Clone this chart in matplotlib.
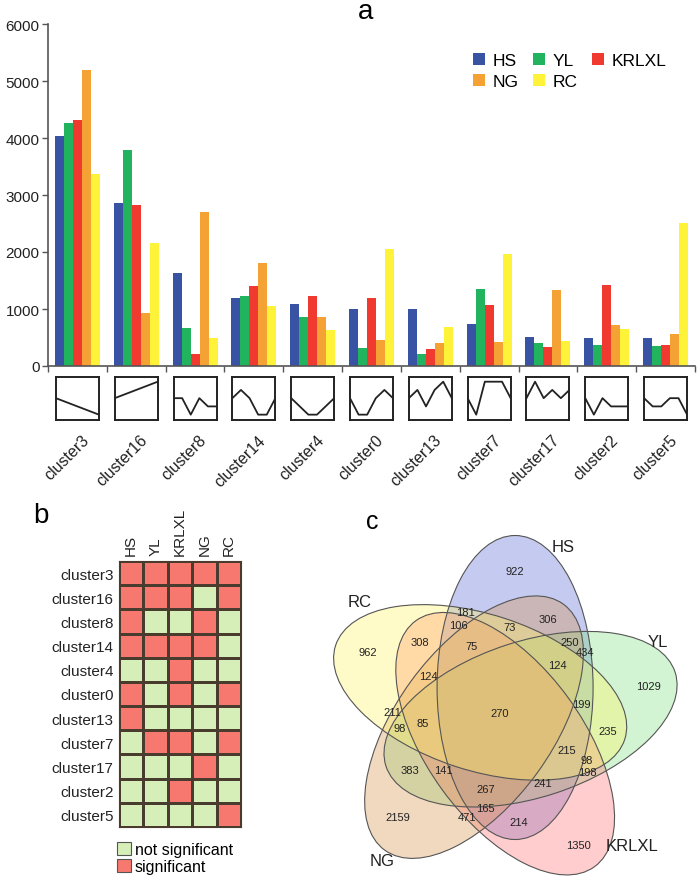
import numpy as np
import matplotlib
matplotlib.use("Agg")
import matplotlib.pyplot as plt
from matplotlib.patches import Ellipse, Patch
from matplotlib.colors import ListedColormap

plt.rcParams['font.family'] = ['Liberation Sans', 'DejaVu Sans']

# ---- data ----
clusters = ["cluster3", "cluster16", "cluster8", "cluster14", "cluster4", "cluster0",
            "cluster13", "cluster7", "cluster17", "cluster2", "cluster5"]
groups = ["HS", "YL", "KRLXL", "NG", "RC"]
group_colors = ["#3953a4", "#22b35e", "#f13a2f", "#f5a234", "#fff33a"]

hs = [4040, 2857, 1639, 1188, 1083, 1000, 995, 743, 509, 498, 486]
yl = [4262, 3793, 667, 1235, 860, 322, 205, 1346, 410, 369, 345]
krlxl = [4320, 2821, 205, 1399, 1229, 1200, 293, 1077, 340, 1428, 369]
ng = [5192, 937, 2704, 1809, 860, 451, 398, 421, 1329, 714, 562]
rc = [3366, 2160, 486, 1048, 632, 2049, 679, 1961, 439, 644, 2505]

# model profiles (6 time points, STEM units)
profiles = [
    [0, -0.4, -0.8, -1.2, -1.6, -2],
    [0, 0.4, 0.8, 1.2, 1.6, 2],
    [0, 0, -2, 0, -1, -1],
    [0, 1, 0, -2, -2, 0],
    [0, -1, -2, -2, -1, 0],
    [0, -2, -2, 0, 1, 0],
    [0, 1, -1, 1, 2, 0],
    [0, -2, 2, 2, 2, 0],
    [0, 2, 0, 1, 0, 1],
    [0, -2, 0, -1, -1, -1],
    [0, -1, -1, 0, 0, -2],
]

# significance matrix (1 = significant), rows = clusters, cols = groups
significance = [
    [1, 1, 1, 1, 1],
    [1, 1, 1, 0, 1],
    [1, 0, 0, 1, 0],
    [1, 1, 1, 1, 0],
    [0, 0, 1, 0, 0],
    [1, 0, 1, 0, 1],
    [1, 0, 0, 0, 0],
    [0, 1, 1, 0, 1],
    [0, 0, 0, 1, 0],
    [0, 0, 1, 0, 0],
    [0, 0, 0, 0, 1],
]

# venn region counts and label positions (pixel layout)
venn_counts = [922, 181, 106, 73, 306, 308, 75, 962, 250, 434, 124, 124, 1029,
               199, 270, 211, 98, 85, 235, 215, 98, 198, 383, 141, 241, 267,
               165, 471, 2159, 214, 1350]
venn_pos = [(515, 572), (465, 613), (458, 626), (510, 628), (548, 620), (420, 643),
            (472, 647), (368, 653), (570, 643), (585, 653), (557, 666), (428, 677),
            (648, 687), (581, 705), (500, 714), (392, 713), (400, 729), (423, 724),
            (608, 732), (567, 751), (587, 761), (587, 773), (410, 771), (443, 771),
            (543, 784), (486, 790), (485, 809), (467, 818), (398, 818), (519, 823),
            (578, 846)]
venn_colors = ["#5968d4", "#7ee27e", "#ff7070", "#d8934d", "#fff462"]
venn_label_pos = [(563, 548), (658, 643), (632, 847), (382, 862), (360, 603)]

W, H = 697, 878
fig = plt.figure(figsize=(W / 100, H / 100), dpi=100)


def fx(px):
    return px / W


def fy(py):
    return 1 - py / H


# ---- panel a ----
ax = fig.add_axes([fx(48), fy(367), fx(695 - 48), (367 - 25) / H])
x = np.arange(len(clusters))
bw = 0.153
series = [hs, yl, krlxl, ng, rc]
for k, vals in enumerate(series):
    ax.bar(x + (k - 2) * bw, vals, width=bw, color=group_colors[k], label=groups[k])
ax.set_xlim(-0.5, len(clusters) - 0.5)
ax.set_ylim(0, 6000)
ax.set_yticks([0, 1000, 2000, 3000, 4000, 5000, 6000])
ax.set_xticks(np.arange(len(clusters) + 1) - 0.5)
ax.set_xticklabels([])
ax.tick_params(axis='y', labelsize=11, length=4, width=1, color='#555555', pad=2,
               labelcolor='#222222')
ax.tick_params(axis='x', length=4, width=1, color='#555555')
for s in ['top', 'right']:
    ax.spines[s].set_visible(False)
for s in ['left', 'bottom']:
    ax.spines[s].set_color('#555555')
    ax.spines[s].set_linewidth(1.2)

h, l = ax.get_legend_handles_labels()
order = [0, 3, 1, 4, 2]
fig.legend([h[i] for i in order], [l[i] for i in order], loc='upper left',
           bbox_to_anchor=(fx(473), fy(54)), ncol=3, frameon=False, fontsize=12.5,
           handlelength=0.7, handleheight=0.7, handletextpad=0.45, columnspacing=0.8,
           labelspacing=0.35, borderpad=0, borderaxespad=0)

fig.text(fx(366), fy(12), "a", fontsize=20, ha='center', va='center')

# profile boxes and labels
step = (695 - 48) / len(clusters)
for i, prof in enumerate(profiles):
    cx = 48 + (i + 0.5) * step
    pax = fig.add_axes([fx(cx - 21.5), fy(421), fx(43), 43 / H])
    pax.plot(range(len(prof)), prof, color='#222222', lw=1.3)
    pax.set_xlim(0, 5)
    pax.set_ylim(-2.65, 2.57)
    pax.set_xticks([])
    pax.set_yticks([])
    for s in pax.spines.values():
        s.set_linewidth(1.4)
        s.set_color('#222222')
    fig.text(fx(cx + 4), fy(433), clusters[i], rotation=45, ha='right', va='top',
             rotation_mode='anchor', fontsize=11.5, color='#222222')

# ---- panel b ----
hax = fig.add_axes([fx(119), fy(828), fx(122), 266 / H])
cmap = ListedColormap(["#d6efb8", "#f7786f"])
hax.pcolormesh(np.array(significance), cmap=cmap, vmin=0, vmax=1,
               edgecolors='#4a3b2f', linewidth=0.8)
hax.set_xlim(0, 5)
hax.set_ylim(len(clusters), 0)
hax.set_xticks(np.arange(5) + 0.5)
hax.set_xticklabels(groups, rotation=90, fontsize=11)
hax.xaxis.tick_top()
hax.set_yticks(np.arange(len(clusters)) + 0.5)
hax.set_yticklabels(clusters, fontsize=11)
hax.tick_params(length=0, pad=4, labelcolor='#222222')
for s in hax.spines.values():
    s.set_color('#4a3b2f')

fig.legend(handles=[Patch(facecolor="#d6efb8", edgecolor='#555555', lw=0.8),
                    Patch(facecolor="#f7786f", edgecolor='#555555', lw=0.8)],
           labels=["not significant", "significant"], loc='upper left',
           bbox_to_anchor=(fx(117), fy(843)), frameon=False, fontsize=11.5,
           handlelength=0.9, handleheight=0.9, handletextpad=0.2, labelspacing=0.1,
           borderpad=0, borderaxespad=0)

fig.text(fx(41), fy(516), "b", fontsize=20, ha='center', va='center')

# ---- panel c ----
vax = fig.add_axes([fx(330), 0, fx(W - 330), (H - 500) / H])
vax.set_xlim(330, W)
vax.set_ylim(-H, -500)
vax.axis('off')
C = np.array([501.0, -715.0])
r, A, B = 30, 152, 78
for k in range(5):
    phi = np.radians(62 - 72 * k)
    c = C + r * np.array([np.cos(phi), np.sin(phi)])
    vax.add_patch(Ellipse(c, 2 * A, 2 * B, angle=90 - 72 * k,
                          facecolor=venn_colors[k], alpha=0.35, edgecolor='none'))
for k in range(5):
    phi = np.radians(62 - 72 * k)
    c = C + r * np.array([np.cos(phi), np.sin(phi)])
    vax.add_patch(Ellipse(c, 2 * A, 2 * B, angle=90 - 72 * k,
                          facecolor='none', edgecolor='#555555', lw=0.8))
for n, (px, py) in zip(venn_counts, venn_pos):
    vax.text(px, -py, str(n), fontsize=8, ha='center', va='center', color='#222222')
for name, (px, py) in zip(groups, venn_label_pos):
    vax.text(px, -py, name, fontsize=12, ha='center', va='center', color='#222222')

fig.text(fx(372), fy(522), "c", fontsize=18, ha='center', va='center')

fig.savefig("out.png", dpi=100)
